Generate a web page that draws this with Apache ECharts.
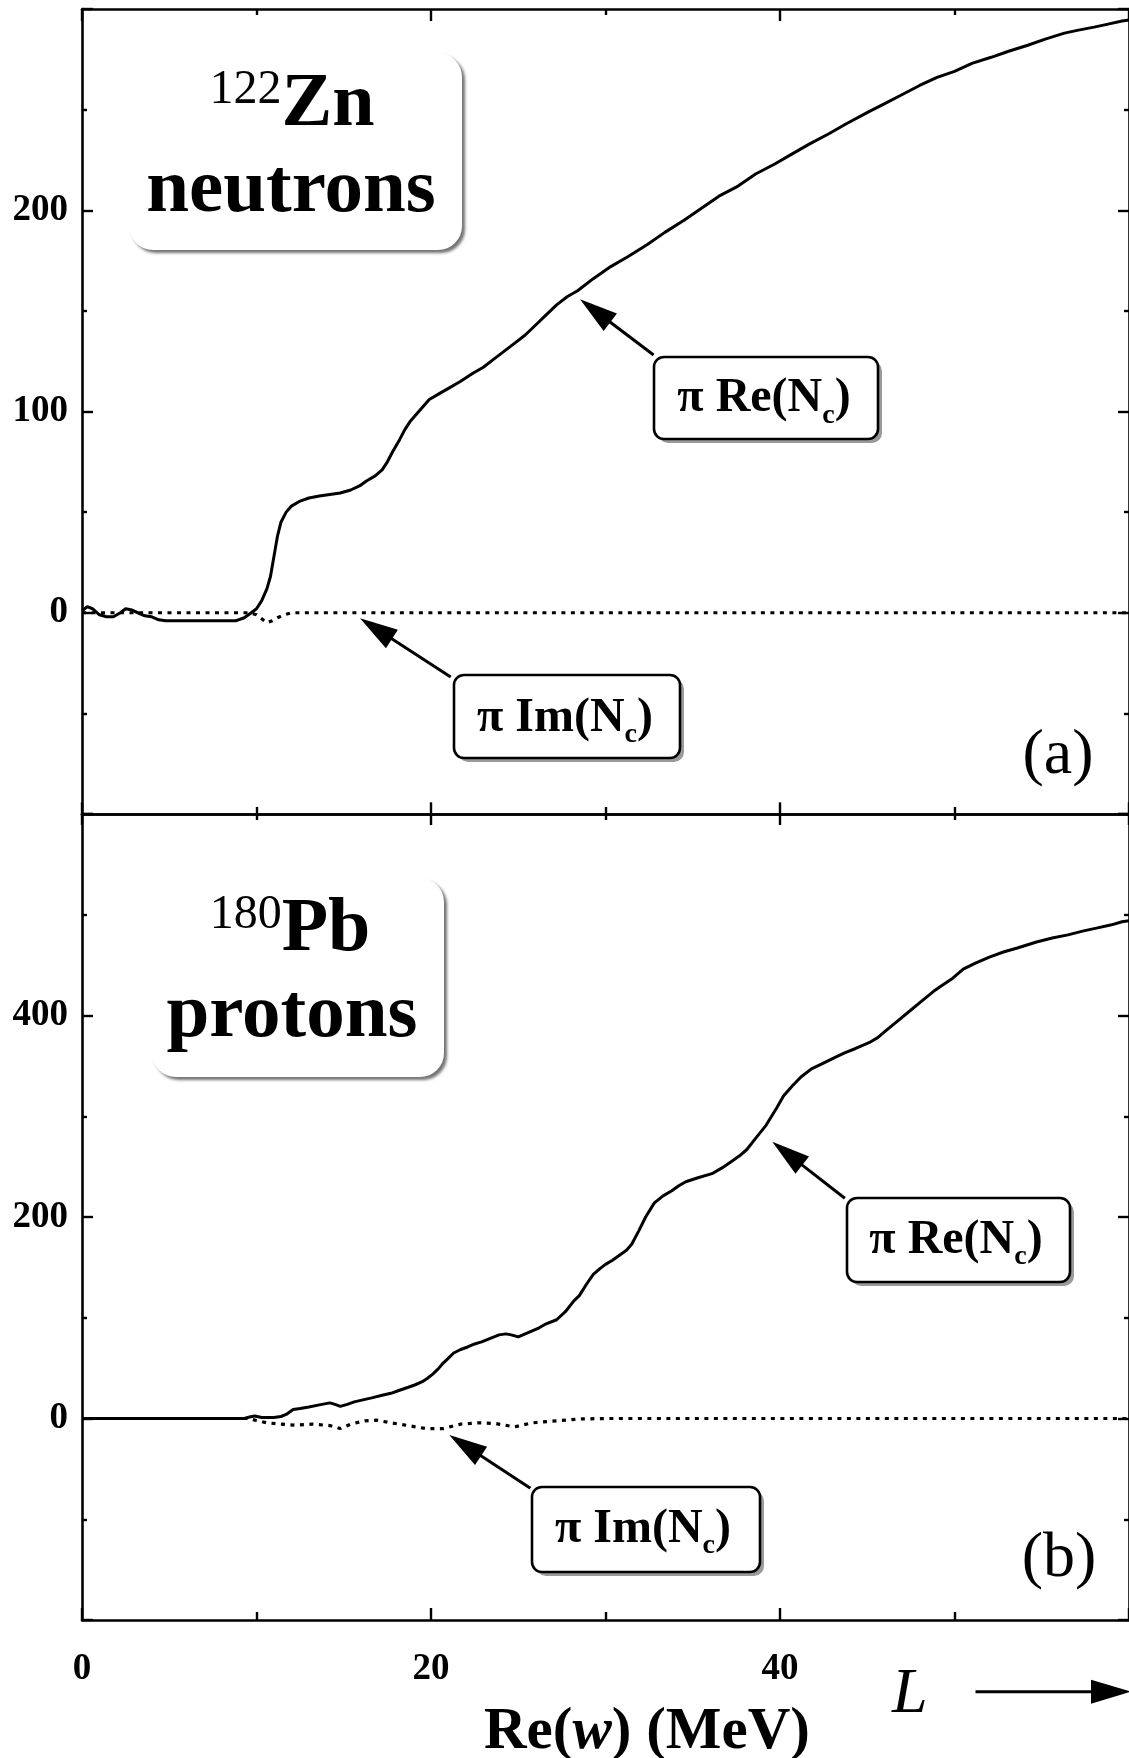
<!DOCTYPE html>
<html><head><meta charset="utf-8">
<script src="https://cdn.jsdelivr.net/npm/echarts@6/dist/echarts.min.js"></script>
<style>html,body{margin:0;padding:0;background:#fff;overflow:hidden}#c{width:1129px;height:1758px}</style>
</head><body><div id="c"></div>
<script>
// ---- data ----
const xReA = [0,0.3,0.6,1.0,1.4,1.8,2.2,2.5,2.8,3.2,3.6,4.0,4.4,4.8,6,7,8,8.8,9.3,9.7,10.0,10.3,10.6,10.8,11.0,11.2,11.4,11.7,12.0,12.5,13.0,13.6,14.2,14.8,15.4,15.9,16.3,16.8,17.2,17.5,17.8,18.2,18.5,18.8,19.1,19.5,19.9,20.5,21.1,21.7,22.4,23.0,23.6,24.2,24.8,25.4,26.0,26.6,27.2,27.8,28.4,29.3,30.3,31.3,32.4,33.4,34.5,35.5,36.5,37.6,38.6,39.7,40.7,41.7,42.8,43.8,45.1,46.0,46.9,48.0,49.0,50.0,51.0,52.1,53.1,54.2,55.2,56.3,57.1,58.0,58.8,59.6,60];
const reA = [1,3,2,-1,-2,-2,0,2,1.5,0,-1.5,-2,-3.5,-4,-4,-4,-4,-4,-2.5,0,2,6,12,18,28,38,45,50,53,55.5,57,58,58.8,59.5,61,63,65.5,68,71,75,80,86,91,95,98,102,106,109,112,115,119,122,126,130,134,138,143,148,153,157,160,166,172,177,183,189,195,201,207,212,218,223,228,233,238,243,249,253,257,262,266,269,273,276,279,282,285,288,289.5,291,292.5,294,294.5];
const xImA = [0,9.6,10.0,10.3,10.6,10.9,11.2,11.6,12.0,60];
const imA = [0,0,-1,-3,-5,-4,-2.5,-1,0,0];

const xReB = [0,9.3,9.6,9.9,10.3,11.0,11.4,11.7,12.1,12.5,13.0,13.6,14.2,14.5,14.8,15.2,15.6,16.1,16.6,17.2,17.7,18.2,18.7,19.1,19.5,19.8,20.1,20.4,20.7,21.0,21.3,21.7,22.1,22.5,22.9,23.4,23.9,24.3,24.6,25.0,25.4,25.8,26.2,26.6,27.2,27.7,28.2,28.5,28.9,29.3,29.7,30.0,30.4,30.8,31.2,31.5,31.9,32.3,32.8,33.3,33.8,34.2,34.6,35.3,36.1,36.7,37.3,37.7,38.1,38.6,39.2,39.8,40.2,40.7,41.2,41.8,42.4,43.1,43.7,44.3,45.1,45.6,46.0,46.7,47.4,48.1,48.8,49.3,49.9,50.5,51.2,52.0,52.8,53.6,54.7,55.6,56.5,57.4,58.2,59.0,59.6,60];
const reB = [0,0,1.5,2.5,1,1,2,4,9,10,11.5,13.5,15.5,14,12,14,16.5,18.5,20.5,23,25,28,31,33.5,36.5,40,44,49,55,60,65,68.5,71,74,76,79.5,83,84,83,81,84,87,90,94,98,106,117,122,133,143,149,153,157,162,167,173,186,200,214,221,226,231,235,239,243,249,256,261,267,278,291,308,320,330,339,347,352,358,363,367,373,378,384,394,404,414,424,430,437,446,452,458,463,467,473,477,480,484,487,490,493,494];
const xImB = [0,9.5,10.0,10.6,11.4,12.2,13.2,14.2,14.8,15.4,16.2,16.9,17.7,18.7,19.7,20.7,21.7,22.7,23.7,24.8,25.8,27.2,28.5,30,60];
const imB = [0,0,-2,-4.3,-5.5,-6.6,-5.6,-7,-10,-5.6,-2.3,-1.7,-4.3,-7,-10,-10,-5.6,-4.3,-5,-8.3,-4.3,-2.3,-0.5,0,0];

const xRange = [0, 60, 20];          // min, max, major interval
const yRangeA = [-100, 300, 100];
const yRangeB = [-200, 600, 200];

// ---- helpers ----
const FONT = '"Liberation Serif", "Times New Roman", serif';
const ctx = document.createElement('canvas').getContext('2d');
function tw(t, size, weight, style) { ctx.font = (style||'normal') + ' ' + (weight||'normal') + ' ' + size + 'px ' + FONT; return ctx.measureText(t).width; }
const MID = 0.265;
function txt(t, x, base, size, weight, style, align) {
  return {type:'text', z:120, style:{text:t, x:x, y: base - MID*size, fontSize:size, fontWeight:weight||'normal', fontStyle:style||'normal', fontFamily:FONT, fill:'#000', align:align||'left', verticalAlign:'middle'}};
}
function runs(parts, cx) {
  let total = 0;
  parts.forEach(p => { p.w = tw(p.t, p.size, p.weight, p.style); total += p.w; });
  let x = cx - total/2; const out = [];
  parts.forEach(p => { out.push(txt(p.t, x, p.base, p.size, p.weight, p.style, 'left')); x += p.w; });
  return out;
}
function titleBox(x,y,w,h) { return {type:'rect', z:110, shape:{x:x,y:y,width:w,height:h,r:24}, style:{fill:'#fff', shadowColor:'rgba(0,0,0,0.55)', shadowBlur:3, shadowOffsetX:3, shadowOffsetY:3}}; }
function labelBox(x,y,w,h) {
  return [
    {type:'rect', z:109, shape:{x:x+4,y:y+4,width:w,height:h,r:10}, style:{fill:'#9a9a9a'}},
    {type:'rect', z:110, shape:{x:x,y:y,width:w,height:h,r:10}, style:{fill:'#fff', stroke:'#000', lineWidth:2.6}}
  ];
}
function arrow(tx,ty,px,py,hl,hw) {
  const dx=px-tx, dy=py-ty, L=Math.hypot(dx,dy), ux=dx/L, uy=dy/L;
  const bx=px-ux*hl, by=py-uy*hl, nx=-uy, ny=ux;
  return [
    {type:'line', z:115, shape:{x1:tx,y1:ty,x2:bx+ux*2,y2:by+uy*2}, style:{stroke:'#000', lineWidth:3}},
    {type:'polygon', z:115, shape:{points:[[px,py],[bx+nx*hw,by+ny*hw],[bx-nx*hw,by-ny*hw]]}, style:{fill:'#000'}}
  ];
}
function nc(base, cx) {
  return runs([{t:'\u03c0 Re(N', size:48, weight:'bold', base:base},{t:'c', size:28, weight:'bold', base:base+11},{t:')', size:48, weight:'bold', base:base}], cx);
}
function ni(base, cx) {
  return runs([{t:'\u03c0 Im(N', size:48, weight:'bold', base:base},{t:'c', size:28, weight:'bold', base:base+11},{t:')', size:48, weight:'bold', base:base}], cx);
}

const AX = {color:'#000', width:2.6};
const LBL = {color:'#000', fontFamily:FONT, fontWeight:'bold', fontSize:37};
function xAx(grid, pos, tickLen, minorLen, labels) {
  return {type:'value', gridIndex:grid, position:pos, min:xRange[0], max:xRange[1], interval:xRange[2],
    axisLine:{show:true, onZero:false, lineStyle:AX},
    axisTick:{show:true, inside:true, length:tickLen, lineStyle:{color:'#000', width:2.4}},
    minorTick:{show:true, splitNumber:2, length:minorLen, lineStyle:{color:'#000', width:2.4}},
    splitLine:{show:false}, minorSplitLine:{show:false},
    axisLabel:Object.assign({show:labels, showMaxLabel:false, margin:31}, LBL)};
}
function yAx(grid, pos, r, labels) {
  return {type:'value', gridIndex:grid, position:pos, min:r[0], max:r[1], interval:r[2],
    axisLine:{show:true, onZero:false, lineStyle:AX},
    axisTick:{show:true, inside:true, length:11, lineStyle:{color:'#000', width:2.4}},
    minorTick:{show:true, splitNumber:2, length:5, lineStyle:{color:'#000', width:2.4}},
    splitLine:{show:false}, minorSplitLine:{show:false},
    axisLabel:Object.assign({show:labels, showMinLabel:false, showMaxLabel:false, margin:14}, LBL)};
}
function pairs(xs, ys) { return xs.map((x,i) => [x, ys[i]]); }
const solid = {color:'#000', width:3};
const dotted = {color:'#000', width:3.2, type:[4,5.5], cap:'butt'};

let graphic = [];
// panel (a)
graphic.push(titleBox(129,53,333,197));
graphic = graphic.concat(runs([{t:'122', size:48, base:103}, {t:'Zn', size:76, weight:'bold', base:125}], 292));
graphic.push(txt('neutrons', 291, 211.7, 77, 'bold', 'normal', 'center'));
graphic = graphic.concat(arrow(653.6,355,580,299.3,38,11));
graphic = graphic.concat(labelBox(654,357,224,82));
graphic = graphic.concat(nc(411.7, 764));
graphic = graphic.concat(arrow(450.7,677,360,618.3,38,11));
graphic = graphic.concat(labelBox(454,675,226,83));
graphic = graphic.concat(ni(731, 565));
graphic.push({type:'text', z:120, style:{text:'(a)', x:1058, y:756, fontSize:64, fontFamily:FONT, fill:'#000', align:'center', verticalAlign:'middle'}});
// panel (b)
graphic.push(titleBox(152,878,292,199));
graphic = graphic.concat(runs([{t:'180', size:48, base:928}, {t:'Pb', size:76, weight:'bold', base:950}], 290));
graphic.push(txt('protons', 292, 1036.7, 77, 'bold', 'normal', 'center'));
graphic = graphic.concat(arrow(844.8,1198.3,772.3,1141.7,38,11));
graphic = graphic.concat(labelBox(847,1198,223,84));
graphic = graphic.concat(nc(1253, 956));
graphic = graphic.concat(arrow(530.4,1488.3,449.3,1435,38,11));
graphic = graphic.concat(labelBox(532,1487,228,85));
graphic = graphic.concat(ni(1542, 643));
graphic.push({type:'text', z:120, style:{text:'(b)', x:1059, y:1559, fontSize:64, fontFamily:FONT, fill:'#000', align:'center', verticalAlign:'middle'}});
// axis title and L arrow
graphic = graphic.concat(runs([{t:'Re(', size:59, weight:'bold', base:1748},{t:'w', size:59, weight:'bold', style:'italic', base:1748},{t:') (MeV)', size:59, weight:'bold', base:1748}], 647));
graphic.push(txt('L', 892, 1711.7, 64, 'normal', 'italic', 'left'));
graphic = graphic.concat(arrow(975.5,1691.7,1131,1691.7,40,12));

const chart = echarts.init(document.getElementById('c'), null, {renderer:'canvas'});
chart.setOption({
  animation:false,
  backgroundColor:'#fff',
  grid:[{left:82, top:9, width:1055, height:805}, {left:82, top:814, width:1055, height:806}],
  xAxis:[xAx(0,'bottom',11.7,7,false), xAx(0,'top',12,6,false), xAx(1,'bottom',12,8,true), xAx(1,'top',11,6,false)],
  yAxis:[yAx(0,'left',yRangeA,true), yAx(0,'right',yRangeA,false), yAx(1,'left',yRangeB,true), yAx(1,'right',yRangeB,false)],
  series:[
    {type:'line', xAxisIndex:0, yAxisIndex:0, data:pairs(xImA, imA), showSymbol:false, lineStyle:dotted, z:3},
    {type:'line', xAxisIndex:0, yAxisIndex:0, data:pairs(xReA, reA), showSymbol:false, lineStyle:solid, z:4},
    {type:'line', xAxisIndex:2, yAxisIndex:2, data:pairs(xImB, imB), showSymbol:false, lineStyle:dotted, z:3},
    {type:'line', xAxisIndex:2, yAxisIndex:2, data:pairs(xReB, reB), showSymbol:false, lineStyle:solid, z:4}
  ],
  graphic:graphic
});
</script></body></html>
